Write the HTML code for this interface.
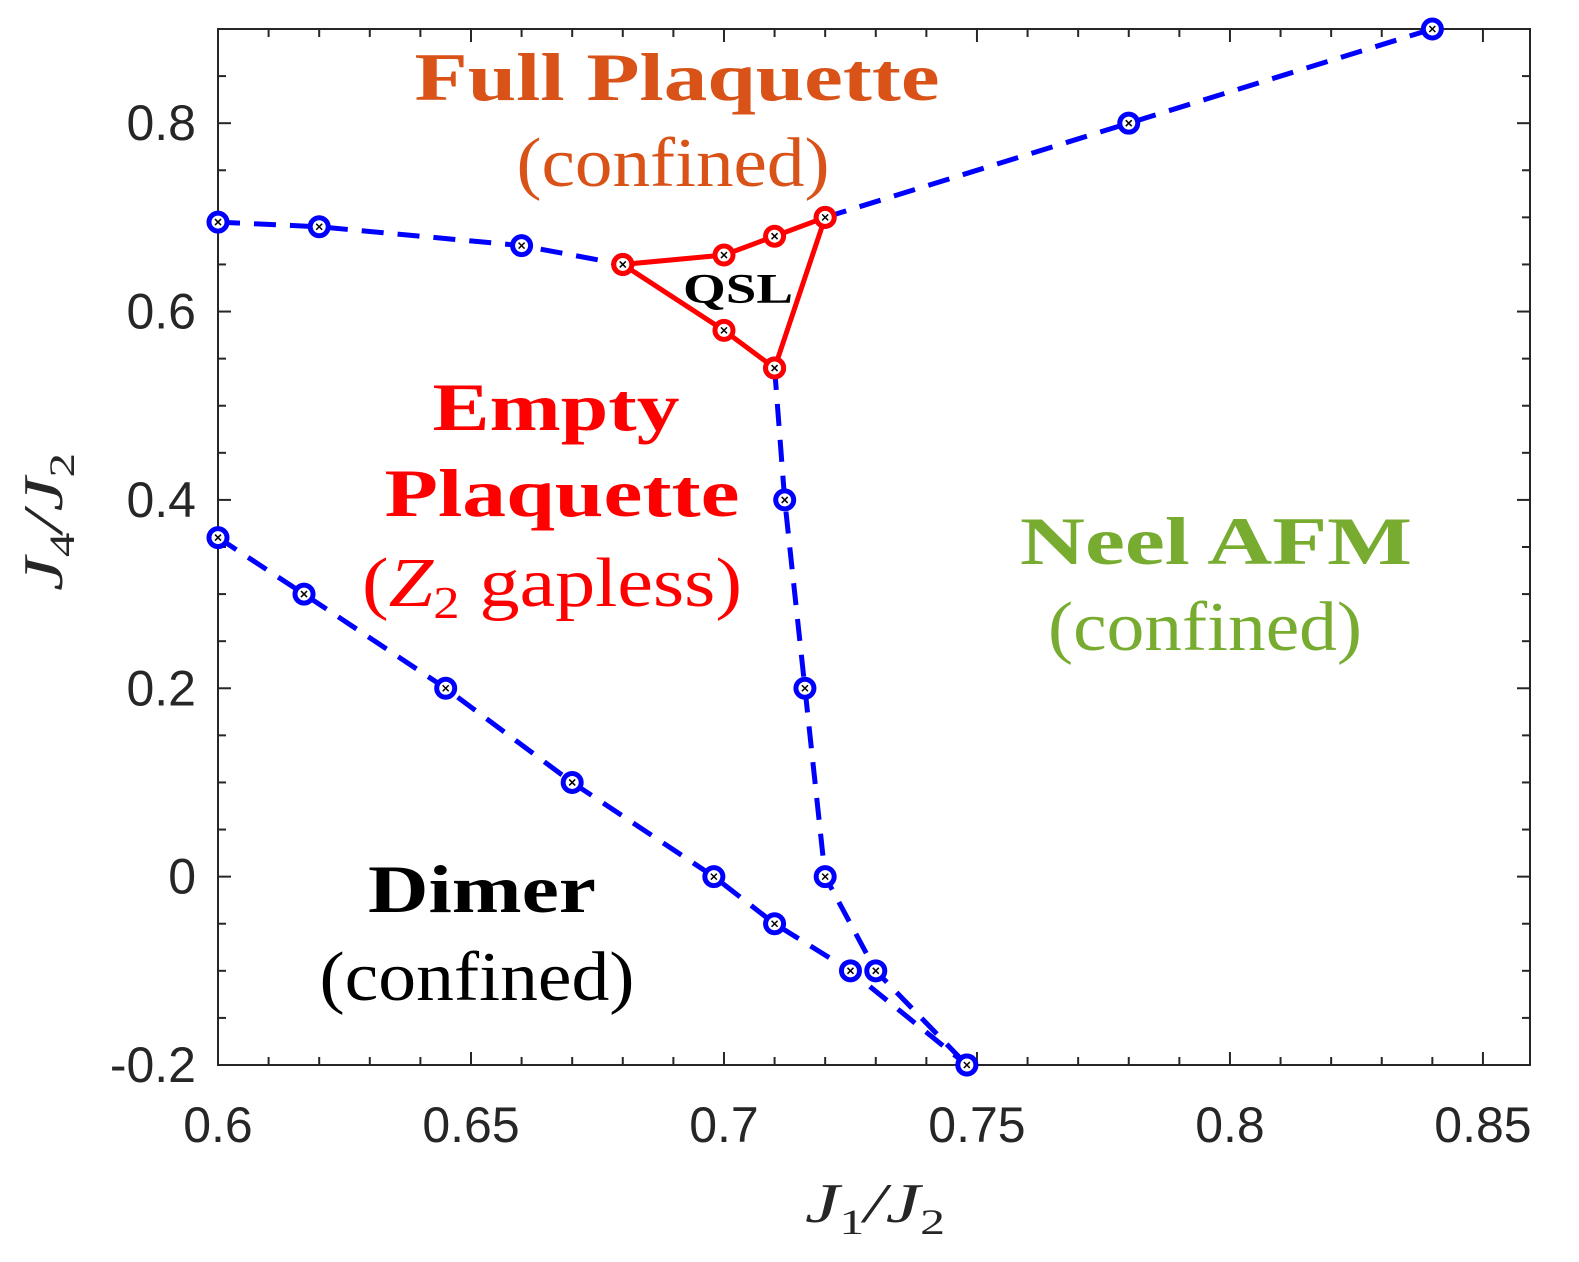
<!DOCTYPE html>
<html><head><meta charset="utf-8"><style>
body{margin:0;background:#fff}
svg text{font-family:"Liberation Sans",sans-serif}
.serif{font-family:"Liberation Serif",serif}
</style></head><body>
<svg id="chart" width="1579" height="1257" xmlns="http://www.w3.org/2000/svg">
<g id="grid"></g>
<g id="lines"></g>
<g id="labels"></g>
</svg>
<script>
const xTicks=[0.6,0.65,0.7,0.75,0.8,0.85];
const xTickLabels=["0.6","0.65","0.7","0.75","0.8","0.85"];
const yTicks=[-0.2,0,0.2,0.4,0.6,0.8];
const yTickLabels=["-0.2","0","0.2","0.4","0.6","0.8"];
const fullPlaqX=[0.6,0.62,0.66,0.68];
const fullPlaqY=[0.695,0.69,0.67,0.65];
const upperX=[0.72,0.78,0.84];
const upperY=[0.70,0.80,0.90];
const vertX=[0.71,0.712,0.716,0.72,0.73,0.748];
const vertY=[0.54,0.4,0.2,0.0,-0.1,-0.2];
const dimerX=[0.6,0.617,0.645,0.67,0.698,0.71,0.725,0.748];
const dimerY=[0.36,0.3,0.2,0.1,0,-0.05,-0.1,-0.2];
const qslX=[0.68,0.70,0.71,0.72,0.71,0.70,0.68];
const qslY=[0.65,0.66,0.68,0.70,0.54,0.58,0.65];

const L=218,R=1530,T=29,B=1065,X0=0.6,X1=0.8593,Y0=-0.2,Y1=0.9;
const sx=v=>L+(v-X0)/(X1-X0)*(R-L);
const sy=v=>B-(v-Y0)/(Y1-Y0)*(B-T);
const NS="http://www.w3.org/2000/svg";
function mk(tag,attrs,parent){const e=document.createElementNS(NS,tag);for(const k in attrs)e.setAttribute(k,attrs[k]);parent.appendChild(e);return e;}
const grid=document.getElementById('grid'),lines=document.getElementById('lines'),labels=document.getElementById('labels');

const box=mk('rect',{x:L,y:T,width:R-L,height:B-T,fill:'none',stroke:'#262626','stroke-width':2},grid);


for(let v=0.6;v<=0.855;v+=0.01){const x=sx(v);const major=Math.abs(v*20-Math.round(v*20))<1e-6;const len=major?13:8;
mk('line',{x1:x,y1:B,x2:x,y2:B-len,stroke:'#262626','stroke-width':2},grid);
mk('line',{x1:x,y1:T,x2:x,y2:T+len,stroke:'#262626','stroke-width':2},grid);}
for(let v=-0.2;v<=0.9001;v+=0.05){const y=sy(v);const major=Math.abs(v*5-Math.round(v*5))<1e-6;const len=major?13:8;
mk('line',{x1:L,y1:y,x2:L+len,y2:y,stroke:'#262626','stroke-width':2},grid);
mk('line',{x1:R,y1:y,x2:R-len,y2:y,stroke:'#262626','stroke-width':2},grid);}
xTicks.forEach((v,i)=>{const t=mk('text',{x:sx(v),y:1142,'font-size':50,'text-anchor':'middle',fill:'#262626'},grid);t.textContent=xTickLabels[i];

});
yTicks.forEach((v,i)=>{const t=mk('text',{x:196,y:sy(v)+17,'font-size':50,'text-anchor':'end',fill:'#262626'},grid);t.textContent=yTickLabels[i];

});

function series(xs,ys,color,dash,name){
 const pts=xs.map((x,i)=>sx(x)+','+sy(ys[i])).join(' ');
 const pl=mk('polyline',{points:pts,fill:'none',stroke:color,'stroke-width':5,'stroke-dasharray':dash||'none'},lines);
 
 
 xs.forEach((x,i)=>{const cx=sx(x),cy=sy(ys[i]);
 const c=mk('circle',{cx:cx,cy:cy,r:9,fill:'#fff',stroke:color,'stroke-width':5},lines);
 
 
 mk('path',{d:`M${cx-3},${cy-3}L${cx+3},${cy+3}M${cx-3},${cy+3}L${cx+3},${cy-3}`,stroke:'#000','stroke-width':1.5},lines);});
}
series(fullPlaqX,fullPlaqY,'#0000ff','22,14','full-plaquette-boundary');
series(upperX,upperY,'#0000ff','22,14','upper-boundary');
series(vertX,vertY,'#0000ff','22,14','neel-boundary');
series(dimerX,dimerY,'#0000ff','22,14','dimer-boundary');
series(qslX,qslY,'#ff0000',null,'qsl-boundary');

function txt(x,y,s,size,color,bold,name,w){const t=mk('text',{x:x,y:y,'font-size':size,fill:color,'text-anchor':'middle','font-weight':bold?'bold':'normal',class:'serif'},labels);t.textContent=s;
if(w){t.setAttribute('textLength',w);t.setAttribute('lengthAdjust','spacingAndGlyphs');}

return t;}
txt(677,100,'Full Plaquette',68,'#d95319',true,'full-plaquette-label',525);
txt(673,186,'(confined)',70,'#d95319',false,'full-plaquette-sub',313);
txt(738,303,'QSL',42,'#000',true,'qsl-label',110);
txt(556,430,'Empty',68,'#ff0000',true,'empty-label',247);
txt(562,516,'Plaquette',68,'#ff0000',true,'plaquette-label',355);
const z=txt(552,606,'',70,'#ff0000',false,'empty-plaquette-sub');
z.innerHTML='(<tspan font-style="italic">Z</tspan><tspan font-size="46" dy="12">2</tspan><tspan dy="-12"> gapless)</tspan>';
z.setAttribute('textLength',380);z.setAttribute('lengthAdjust','spacingAndGlyphs');
txt(1216,564,'Neel AFM',68,'#77ac30',true,'neel-label',392);
txt(1205,650,'(confined)',70,'#77ac30',false,'neel-sub',314);
txt(482,912,'Dimer',68,'#000',true,'dimer-label',228);
txt(477,1000,'(confined)',70,'#000',false,'dimer-sub',315);
const xl=txt(875,1222,'',56,'#262626',false,'x-axis-title');
xl.innerHTML='<tspan font-style="italic">J</tspan><tspan font-size="36" dy="12">1</tspan><tspan dy="-12" font-style="italic">/J</tspan><tspan font-size="36" dy="12">2</tspan>';
xl.setAttribute('textLength',140);xl.setAttribute('lengthAdjust','spacingAndGlyphs');
const yl=txt(0,0,'',56,'#262626',false,'y-axis-title');
yl.setAttribute('transform','translate(62,522) rotate(-90)');
yl.innerHTML='<tspan font-style="italic">J</tspan><tspan font-size="36" dy="12">4</tspan><tspan dy="-12" font-style="italic">/J</tspan><tspan font-size="36" dy="12">2</tspan>';
yl.setAttribute('textLength',138);yl.setAttribute('lengthAdjust','spacingAndGlyphs');
</script>
</body></html>
